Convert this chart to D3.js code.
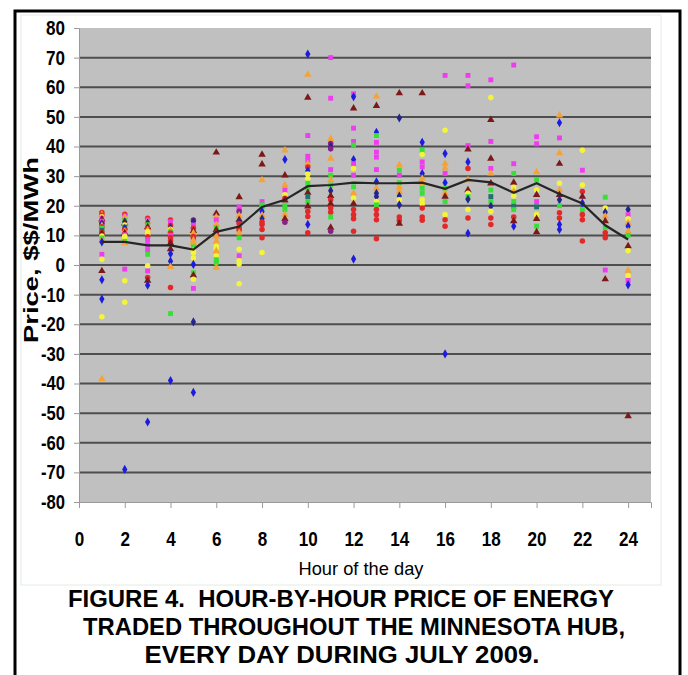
<!DOCTYPE html>
<html>
<head>
<meta charset="utf-8">
<script src="https://cdn.jsdelivr.net/npm/d3@7"></script>
<style>
  body { margin: 0; background: #ffffff; }
  svg { display: block; }
</style>
</head>
<body>
<div id="chart"></div>
<script>
// Hourly prices, July 2009, Minnesota hub. Each point: [price, day-series key]
const hour01 = [[17.7,"r"],[17.0,"o"],[16.8,"r"],[16.3,"y"],[15.8,"m"],[15.4,"k"],[14.8,"m"],[14.1,"p"],[13.8,"n"],[13.2,"o"],[12.9,"r"],[12.4,"g"],[11.7,"t"],[11.0,"r"],[10.6,"k"],[9.8,"y"],[9.1,"g"],[8.4,"o"],[7.8,"b"],[3.6,"m"],[1.9,"y"],[-2.0,"k"],[-5.0,"b"],[-11.5,"b"],[-17.5,"y"],[-38.5,"o"]];
const hour02 = [[17.1,"r"],[16.5,"m"],[16.1,"o"],[15.0,"g"],[14.6,"n"],[14.1,"k"],[13.5,"y"],[12.8,"t"],[12.3,"b"],[11.9,"r"],[11.3,"o"],[10.8,"k"],[10.2,"m"],[9.7,"y"],[8.8,"y"],[8.0,"g"],[7.4,"o"],[-1.4,"m"],[-5.3,"y"],[-12.6,"y"],[-69,"b"]];
const hour03 = [[15.8,"r"],[15.2,"m"],[14.7,"o"],[14.2,"n"],[13.6,"g"],[12.8,"k"],[12.2,"r"],[11.7,"o"],[11.2,"y"],[10.2,"y"],[9.5,"r"],[8.6,"m"],[6.9,"m"],[5.2,"m"],[3.6,"g"],[-0.3,"y"],[-2.0,"m"],[-4.2,"r"],[-5.3,"k"],[-6.8,"b"],[-53,"b"]];
const hour04 = [[15.2,"r"],[14.6,"m"],[14.1,"m"],[13.3,"r"],[12.6,"n"],[12.1,"y"],[11.6,"o"],[11.2,"g"],[10.8,"r"],[10.0,"m"],[9.3,"r"],[8.2,"r"],[7.4,"k"],[5.4,"k"],[3.8,"b"],[1.3,"b"],[-0.6,"o"],[-7.6,"r"],[-16.4,"g"],[-39,"b"]];
const hour05 = [[15.2,"p"],[14.6,"n"],[13.5,"m"],[12.4,"r"],[11.5,"k"],[10.8,"o"],[9.6,"r"],[9.1,"r"],[8.3,"o"],[7.4,"o"],[6.1,"g"],[5.0,"y"],[4.1,"y"],[2.4,"y"],[0.2,"b"],[-2.6,"g"],[-3.5,"k"],[-4.8,"y"],[-7.9,"m"],[-19.2,"n"],[-43,"b"]];
const hour06 = [[38,"k"],[17.4,"k"],[16.2,"o"],[15.2,"m"],[13.6,"o"],[12.5,"g"],[11.9,"k"],[10.8,"r"],[9.7,"o"],[8.0,"o"],[6.3,"y"],[5.5,"y"],[4.7,"o"],[3.0,"y"],[1.8,"g"],[0.8,"g"],[-0.9,"o"]];
const hour07 = [[22.9,"k"],[19.6,"m"],[18.6,"m"],[18.1,"p"],[16.7,"o"],[15.3,"k"],[14.5,"n"],[14.0,"r"],[12.6,"r"],[11.8,"r"],[10.9,"o"],[9.2,"g"],[5.3,"y"],[3.1,"m"],[1.4,"y"],[0.3,"y"],[-6.3,"y"]];
const hour08 = [[37.3,"k"],[34.0,"k"],[28.7,"o"],[21.4,"m"],[20.3,"g"],[19.5,"g"],[18.1,"b"],[16.8,"o"],[15.6,"n"],[14.5,"r"],[13.7,"r"],[12.0,"r"],[9.2,"r"],[4.2,"y"]];
const hour09 = [[38.7,"o"],[35.6,"b"],[30.3,"k"],[27.0,"o"],[25.3,"m"],[23.7,"y"],[22.5,"r"],[21.8,"k"],[20.0,"g"],[18.7,"g"],[17.0,"o"],[15.6,"k"],[14.4,"p"]];
const hour10 = [[71.2,"b"],[64.3,"o"],[56.5,"k"],[43.7,"m"],[36.7,"m"],[35.3,"m"],[34.2,"o"],[33.1,"r"],[31.8,"b"],[30.7,"y"],[29.2,"y"],[27.6,"g"],[25.9,"g"],[24.4,"k"],[23.1,"t"],[21.4,"g"],[19.8,"k"],[18.1,"r"],[16.4,"r"],[13.7,"b"],[10.9,"r"]];
const hour11 = [[70,"m"],[56.3,"m"],[42.6,"o"],[41.0,"p"],[40.0,"n"],[39.2,"p"],[35.9,"o"],[32.2,"m"],[30.3,"g"],[28.7,"o"],[27.0,"g"],[25.1,"n"],[23.3,"k"],[22.0,"r"],[20.7,"k"],[19.2,"r"],[17.8,"r"],[16.2,"g"],[12.6,"k"],[11.4,"p"]];
const hour12 = [[57.8,"m"],[56.8,"b"],[52.9,"k"],[46.2,"m"],[41.7,"m"],[40.5,"g"],[35.6,"b"],[34.2,"m"],[32.6,"y"],[30.3,"m"],[26.4,"g"],[24.2,"o"],[22.6,"y"],[20.7,"k"],[18.7,"r"],[17.0,"r"],[15.6,"r"],[11.4,"r"],[2.0,"b"]];
const hour13 = [[56.9,"o"],[53.7,"k"],[44.8,"b"],[43.7,"g"],[41.4,"m"],[38.1,"m"],[36.4,"m"],[32.2,"m"],[28.1,"b"],[25.9,"o"],[24.2,"n"],[23.1,"n"],[21.4,"y"],[20.3,"g"],[18.7,"r"],[17.0,"r"],[15.3,"r"],[8.9,"r"]];
const hour14 = [[58,"k"],[49.6,"n"],[33.7,"o"],[32.0,"g"],[30.3,"m"],[27.8,"g"],[26.2,"o"],[24.8,"o"],[23.3,"n"],[22.0,"y"],[20.3,"n"],[16.2,"r"],[15.0,"r"],[14.0,"k"]];
const hour15 = [[58,"k"],[41.4,"b"],[38.7,"g"],[37.3,"y"],[34.8,"m"],[33.1,"m"],[30.9,"b"],[29.2,"o"],[27.6,"o"],[25.9,"g"],[24.2,"g"],[22.0,"y"],[20.7,"y"],[19.2,"r"],[16.2,"r"],[15.1,"r"]];
const hour16 = [[64,"m"],[45.5,"y"],[37.6,"b"],[34.2,"o"],[32.6,"o"],[30.9,"m"],[27.8,"b"],[25.9,"g"],[24.2,"o"],[23.1,"k"],[21.4,"g"],[17.0,"y"],[15.3,"r"],[13.1,"r"],[-30,"b"]];
const hour17 = [[64,"m"],[60.5,"m"],[40.3,"m"],[39.0,"k"],[34.8,"b"],[32.6,"r"],[28.7,"o"],[25.3,"k"],[24.2,"y"],[23.1,"g"],[22.2,"n"],[18.7,"y"],[15.9,"r"],[10.7,"b"]];
const hour18 = [[62.5,"m"],[56.5,"y"],[49,"k"],[41.7,"m"],[35.9,"k"],[32.6,"m"],[30.9,"o"],[27.6,"k"],[25.3,"g"],[23.1,"t"],[21.4,"g"],[19.8,"n"],[18.1,"y"],[15.9,"r"],[13.7,"r"]];
const hour19 = [[67.5,"m"],[34.2,"m"],[30.9,"g"],[27.8,"k"],[26.2,"y"],[24.8,"o"],[23.3,"y"],[21.4,"g"],[19.8,"t"],[18.7,"g"],[16.2,"r"],[14.8,"k"],[13.1,"b"]];
const hour20 = [[43.3,"m"],[40.9,"m"],[31.4,"o"],[28.7,"g"],[25.3,"y"],[23.7,"k"],[21.4,"m"],[19.6,"t"],[17.0,"y"],[15.6,"k"],[13.1,"g"],[11.1,"k"]];
const hour21 = [[50.5,"o"],[48,"b"],[42.9,"m"],[37.8,"o"],[34.2,"k"],[27.6,"y"],[25.3,"o"],[23.7,"k"],[22.0,"n"],[20.0,"g"],[17.6,"r"],[15.9,"r"],[13.7,"b"],[12.0,"b"]];
const hour22 = [[38.7,"y"],[32.0,"m"],[27.0,"y"],[24.8,"r"],[23.1,"k"],[20.9,"b"],[18.7,"g"],[17.0,"r"],[15.3,"r"],[8.1,"r"]];
const hour23 = [[22.9,"g"],[19.2,"y"],[17.8,"n"],[16.4,"o"],[14.8,"k"],[12.6,"g"],[10.9,"r"],[9.2,"r"],[-1.7,"m"],[-4.8,"k"]];
const hour24 = [[18.7,"n"],[17.0,"m"],[15.6,"y"],[14.2,"o"],[13.1,"b"],[11.4,"o"],[10.0,"g"],[6.4,"k"],[4.8,"y"],[-1.9,"o"],[-3.6,"y"],[-5.2,"m"],[-6.7,"b"],[-51,"k"]];

const hourColumns = [hour01, hour02, hour03, hour04, hour05, hour06, hour07, hour08,
  hour09, hour10, hour11, hour12, hour13, hour14, hour15, hour16,
  hour17, hour18, hour19, hour20, hour21, hour22, hour23, hour24];

// Monthly average price per hour (black line)
const hours = d3.range(1, 25);
const averagePrice = [7.8, 7.8, 6.6, 6.6, 5.2, 11.2, 13.0, 19.6, 22.0, 26.6, 27.0, 27.8,
  27.6, 27.6, 27.8, 25.7, 28.7, 27.9, 24.4, 27.6, 24.0, 20.8, 13.4, 8.6];

const yTicks = d3.range(-80, 81, 10);
const xTicks = d3.range(0, 25, 2);
const captionLines = [
  "FIGURE 4.  HOUR-BY-HOUR PRICE OF ENERGY",
  "TRADED THROUGHOUT THE MINNESOTA HUB,",
  "EVERY DAY DURING JULY 2009."
];

// series key -> colour and marker
const seriesStyle = {
  b: { color: "#1c1ce0", symbol: d3.symbolDiamond },
  m: { color: "#f03cf0", symbol: d3.symbolSquare },
  y: { color: "#f4f43a", symbol: d3.symbolCircle },
  o: { color: "#f5a236", symbol: d3.symbolTriangle },
  k: { color: "#7c1818", symbol: d3.symbolTriangle },
  r: { color: "#e22828", symbol: d3.symbolCircle },
  g: { color: "#36e036", symbol: d3.symbolSquare },
  n: { color: "#24248e", symbol: d3.symbolDiamond },
  p: { color: "#862286", symbol: d3.symbolCircle },
  t: { color: "#23706e", symbol: d3.symbolSquare }
};

const width = 688, height = 675;
const plot = { left: 79, right: 651, top: 28, bottom: 502 };
const tickFont = "'Liberation Sans', Arial, sans-serif";

// condensed look of the tick labels: fixed width per glyph
const labelWidth = s => s.split("").reduce((w, c) => w + (c === "-" ? 5 : 9.5), 0);

const svg = d3.select("#chart").append("svg")
  .attr("width", width)
  .attr("height", height);

svg.append("rect").attr("width", width).attr("height", height).attr("fill", "#ffffff");

// faint chart-area frame
svg.append("rect")
  .attr("x", 21).attr("y", 15).attr("width", 640).attr("height", 570)
  .attr("fill", "none").attr("stroke", "#e3ece3").attr("stroke-width", 1);

const x = d3.scaleLinear().domain([0, 25]).range([plot.left, plot.right]);
const y = d3.scaleLinear().domain([-80, 80]).range([plot.bottom, plot.top]);

// plot background
svg.append("rect")
  .attr("x", x(0)).attr("y", y(80))
  .attr("width", x(25) - x(0)).attr("height", y(-80) - y(80))
  .attr("fill", "#c0c0c0");

// horizontal gridlines
svg.append("g")
  .selectAll("line")
  .data(yTicks.filter(d => d > -80 && d < 80))
  .join("line")
  .attr("x1", x(0)).attr("x2", x(25))
  .attr("y1", d => y(d)).attr("y2", d => y(d))
  .attr("stroke", "#4e4e4e")
  .attr("stroke-width", 2);

// y axis
const yAxis = svg.append("g")
  .attr("transform", `translate(${x(0)},0)`)
  .call(d3.axisLeft(y).tickValues(yTicks).tickSize(5).tickPadding(9).tickFormat(d => String(d)));
yAxis.select(".domain").attr("stroke", "#9a9a9a");
yAxis.selectAll(".tick line").attr("stroke", "#9a9a9a");
yAxis.selectAll("text")
  .attr("font-family", tickFont)
  .attr("font-size", "20px")
  .attr("font-weight", "bold")
  .attr("fill", "#000")
  .attr("textLength", d => labelWidth(String(d)))
  .attr("lengthAdjust", "spacingAndGlyphs");

// x axis
const xAxis = svg.append("g")
  .attr("transform", `translate(0,${y(-80)})`)
  .call(d3.axisBottom(x).tickValues(xTicks).tickSize(6).tickPadding(24));
xAxis.select(".domain").attr("stroke", "#9a9a9a");
xAxis.selectAll(".tick line").attr("stroke", "#9a9a9a");
xAxis.selectAll("text")
  .attr("font-family", tickFont)
  .attr("font-size", "20px")
  .attr("font-weight", "bold")
  .attr("fill", "#000")
  .attr("textLength", d => labelWidth(String(d)))
  .attr("lengthAdjust", "spacingAndGlyphs");

// daily points
const points = hourColumns.flatMap((col, i) =>
  col.map(([price, key]) => ({ hour: hours[i], price, key })));

svg.append("g")
  .selectAll("path")
  .data(points)
  .join("path")
  .attr("transform", d => `translate(${x(d.hour)},${y(d.price)})`)
  .attr("d", d => d3.symbol().type(seriesStyle[d.key].symbol).size(24)())
  .attr("fill", d => seriesStyle[d.key].color);

// average line
svg.append("path")
  .datum(hours.map((h, i) => [h, averagePrice[i]]))
  .attr("fill", "none")
  .attr("stroke", "#262626")
  .attr("stroke-width", 2.2)
  .attr("d", d3.line().x(d => x(d[0])).y(d => y(d[1])));

// axis titles
svg.append("text")
  .attr("transform", "translate(38,250) rotate(-90)")
  .attr("text-anchor", "middle")
  .attr("font-family", "'Liberation Sans', Arial, sans-serif")
  .attr("font-size", "20px")
  .attr("font-weight", "bold")
  .attr("textLength", 186)
  .attr("lengthAdjust", "spacingAndGlyphs")
  .text("Price, $$/MWh");

svg.append("text")
  .attr("x", 361).attr("y", 575)
  .attr("text-anchor", "middle")
  .attr("font-family", tickFont)
  .attr("font-size", "19px")
  .attr("textLength", 125)
  .attr("lengthAdjust", "spacingAndGlyphs")
  .text("Hour of the day");

// caption
const captionPos = [[341, 607, 546], [354, 635, 542], [342, 663, 395]];
svg.append("g")
  .selectAll("text")
  .data(captionLines)
  .join("text")
  .attr("x", (d, i) => captionPos[i][0])
  .attr("y", (d, i) => captionPos[i][1])
  .attr("text-anchor", "middle")
  .attr("font-family", "'Liberation Sans', Arial, sans-serif")
  .attr("font-size", "23px")
  .attr("font-weight", "bold")
  .attr("textLength", (d, i) => captionPos[i][2])
  .attr("lengthAdjust", "spacingAndGlyphs")
  .style("white-space", "pre")
  .text(d => d);

// outer frame
svg.append("rect")
  .attr("x", 15).attr("y", 11).attr("width", 665).attr("height", 680)
  .attr("fill", "none").attr("stroke", "#000").attr("stroke-width", 3);
</script>
</body>
</html>
